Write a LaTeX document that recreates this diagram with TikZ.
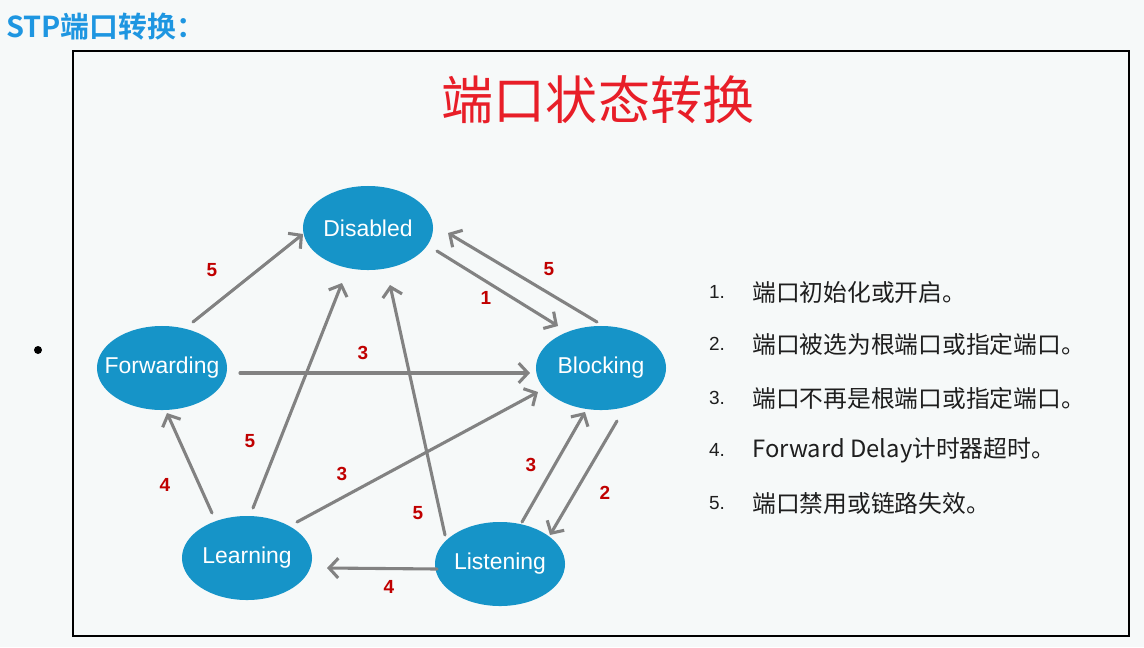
\documentclass[tikz,border=0pt]{standalone}
\usepackage{fontspec}
\usetikzlibrary{shapes.geometric,arrows.meta,calc}
\setmainfont{Liberation Sans}
\newfontfamily\cjk{Noto Sans CJK SC}
\newfontfamily\cjkbold{Noto Sans CJK SC Bold}
\definecolor{bgc}{RGB}{246,249,249}
\definecolor{stateblue}{RGB}{22,148,200}
\definecolor{arrgray}{RGB}{130,130,130}
\definecolor{labred}{RGB}{192,0,0}
\definecolor{titlered}{RGB}{232,30,40}
\definecolor{headblue}{RGB}{30,150,225}
\definecolor{listtext}{RGB}{30,30,30}
\newcommand{\statetext}[1]{\makebox[0pt]{#1}}
\tikzset{
  state/.style={ellipse, fill=stateblue, text=white, minimum width=3.25cm,
    minimum height=2.1cm, inner sep=0pt, font=\fontsize{16.3}{18}\selectfont},
  arr/.style={draw=arrgray, line width=2.2pt, line cap=round, line join=round,
    -{Straight Barb[length=6.5pt,width=14pt,line width=2.2pt]}},
  lab/.style={text=labred, font=\bfseries\fontsize{13.5}{16}\selectfont, inner sep=0pt},
  num/.style={text=listtext, font=\fontsize{13.5}{16}\selectfont, inner sep=0pt},
  item/.style={text=listtext, anchor=west, font=\cjk\fontsize{16.9}{20}\selectfont, inner sep=0pt}
}
\begin{document}
\begin{tikzpicture}[x=0.025cm,y=-0.025cm]
  % page background and frame
  \fill[bgc] (0,0) rectangle (1144,647);
  \useasboundingbox (0,0) rectangle (1144,647);
  \draw[line width=1.4pt, fill=bgc] (73,51) rectangle (1129,636);

  % headings
  \node[anchor=west, text=headblue, inner sep=0pt, font=\cjkbold\fontsize{20.5}{24}\selectfont] (head) at (6,27) {STP端口转换：};
  \node[text=titlered, inner sep=0pt, font=\cjk\fontsize{37}{44}\selectfont] (title) at (598,100) {端口状态转换};
  \fill (38,350) circle (4);

  % port states
  \node[state] (dis) at (368,228) {\statetext{Disabled}};
  \node[state] (fwd) at (162,368) {\statetext{Forwarding}};
  \node[state] (blk) at (601,368) {\statetext{Blocking}};
  \node[state] (lrn) at (247,558) {\statetext{Learning}};
  \node[state] (lst) at (500,564) {\statetext{Listening}};

  % transitions
  \draw[arr] ($(fwd)+(31,-46)$) -- ($(dis)+(-65,6)$);
  \draw[arr] ($(dis)+(69,23)$) -- ($(blk)+(-43,-42)$);
  \draw[arr] ($(blk)+(-4,-46)$) -- ($(dis)+(80,5)$);
  \draw[arr] ($(fwd)+(78,5)$) -- ($(blk)+(-71,5)$);
  \draw[arr] ($(lrn)+(6,-50)$) -- ($(dis)+(-26,55)$);
  \draw[arr] ($(lst)+(-55,-29)$) -- ($(dis)+(22,57)$);
  \draw[arr] ($(lrn)+(50,-36)$) -- ($(blk)+(-63,24)$);
  \draw[arr] ($(lst)+(22,-42)$) -- ($(blk)+(-16,44)$);
  \draw[arr] ($(blk)+(16,53)$) -- ($(lst)+(50,-29)$);
  \draw[arr] ($(lrn)+(-35,-45)$) -- ($(fwd)+(5,45)$);
  \draw[arr] ($(lst)+(-63,5)$) -- ($(lrn)+(80,10)$);

  % transition numbers
  \node[lab] (t1) at (212,270) {5};
  \node[lab] (t2) at (486,298) {1};
  \node[lab] (t3) at (549,269) {5};
  \node[lab] (t4) at (363,353) {3};
  \node[lab] (t5) at (250,441) {5};
  \node[lab] (t6) at (418,513) {5};
  \node[lab] (t7) at (342,474) {3};
  \node[lab] (t8) at (531,465) {3};
  \node[lab] (t9) at (605,493) {2};
  \node[lab] (t10) at (165,485) {4};
  \node[lab] (t11) at (389,587) {4};

  % legend
  \node[num] (n1) at (717,292) {1.};
  \node[num] (n2) at (717,344) {2.};
  \node[num] (n3) at (717,398) {3.};
  \node[num] (n4) at (717,450) {4.};
  \node[num] (n5) at (717,503) {5.};
  \node[item] (i1) at (752,292) {端口初始化或开启。};
  \node[item] (i2) at (752,344) {端口被选为根端口或指定端口。};
  \node[item] (i3) at (752,398) {端口不再是根端口或指定端口。};
  \node[item] (i4) at (752,450) {Forward Delay计时器超时。};
  \node[item] (i5) at (752,503) {端口禁用或链路失效。};
\end{tikzpicture}
\end{document}
